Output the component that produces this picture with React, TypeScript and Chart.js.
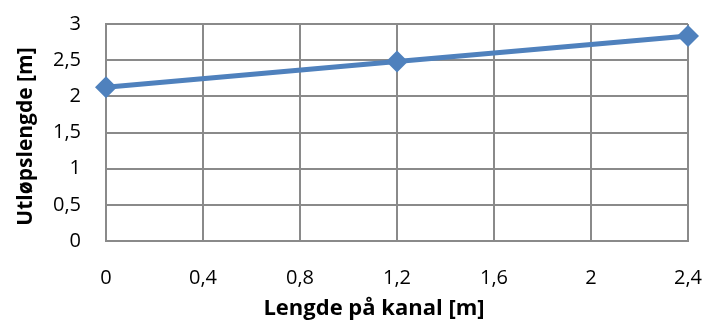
import React, { useEffect, useRef } from "react";
import { Chart, registerables } from "chart.js";

Chart.register(...registerables);

const channelLength = [0, 1.2, 2.4];
const outletLength = [2.125, 2.48, 2.835];
const xTitle = "Lengde på kanal [m]";
const yTitle = "Utløpslengde [m]";

const fmt = (v: number) => {
  const r = Math.round(v * 10) / 10;
  return r.toString().replace(".", ",");
};

const FONT = "'Open Sans', sans-serif";

const axisTitles = {
  id: "axisTitles",
  afterDraw(chart: any) {
    const { ctx, chartArea } = chart;
    ctx.save();
    ctx.fillStyle = "#000";
    ctx.textAlign = "center";
    ctx.textBaseline = "middle";
    ctx.font = `bold 22px ${FONT}`;
    const cx = (chartArea.left + chartArea.right) / 2 - 23;
    ctx.fillText(xTitle, cx, chartArea.bottom + 68);
    ctx.font = `bold 21px ${FONT}`;
    ctx.translate(26, (chartArea.top + chartArea.bottom) / 2 + 4);
    ctx.rotate(-Math.PI / 2);
    ctx.fillText(yTitle, 0, 0);
    ctx.restore();
  },
};

export default function App() {
  const ref = useRef<HTMLCanvasElement>(null);
  useEffect(() => {
    if (!ref.current) return;
    const chart = new Chart(ref.current, {
      type: "line",
      data: {
        datasets: [
          {
            data: channelLength.map((x, i) => ({ x, y: outletLength[i] })),
            borderColor: "#4F81BD",
            backgroundColor: "#4F81BD",
            borderWidth: 5,
            pointStyle: "rectRot",
            pointRadius: 11,
            pointHoverRadius: 11,
            pointBorderWidth: 0,
            tension: 0,
            clip: false,
          },
        ],
      },
      plugins: [axisTitles],
      options: {
        animation: false,
        responsive: false,
        maintainAspectRatio: false,
        layout: { autoPadding: false, padding: { top: 24, right: 19, left: 0, bottom: 0 } },
        plugins: { legend: { display: false }, tooltip: { enabled: false } },
        scales: {
          x: {
            type: "linear",
            min: 0,
            max: 2.4,
            ticks: {
              stepSize: 0.4,
              color: "#000",
              font: { family: FONT, size: 20 },
              padding: 25,
              maxRotation: 0,
              callback: (v: any) => fmt(Number(v)),
            },
            grid: { color: "#8a8a8a", lineWidth: 2, drawTicks: false },
            border: { color: "#8a8a8a", width: 2 },
            title: { display: false },
            afterFit: (s: any) => {
              s.height = 79;
              s.paddingLeft = 0;
              s.paddingRight = 0;
              s.paddingTop = 0;
              s.paddingBottom = 0;
            },
          },
          y: {
            min: 0,
            max: 3,
            ticks: {
              stepSize: 0.5,
              color: "#000",
              font: { family: FONT, size: 20 },
              padding: 25,
              callback: (v: any) => fmt(Number(v)),
            },
            grid: { color: "#8a8a8a", lineWidth: 2, drawTicks: false },
            border: { color: "#8a8a8a", width: 2 },
            title: { display: false },
            afterFit: (s: any) => {
              s.width = 106;
              s.paddingLeft = 0;
              s.paddingRight = 0;
              s.paddingTop = 0;
              s.paddingBottom = 0;
            },
          },
        },
      },
    });
    return () => chart.destroy();
  }, []);
  return (
    <div style={{ position: "fixed", left: 0, top: 0, width: 707, height: 320, background: "#fff" }}>
      <canvas ref={ref} width={707} height={320} style={{ width: 707, height: 320 }} />
    </div>
  );
}
